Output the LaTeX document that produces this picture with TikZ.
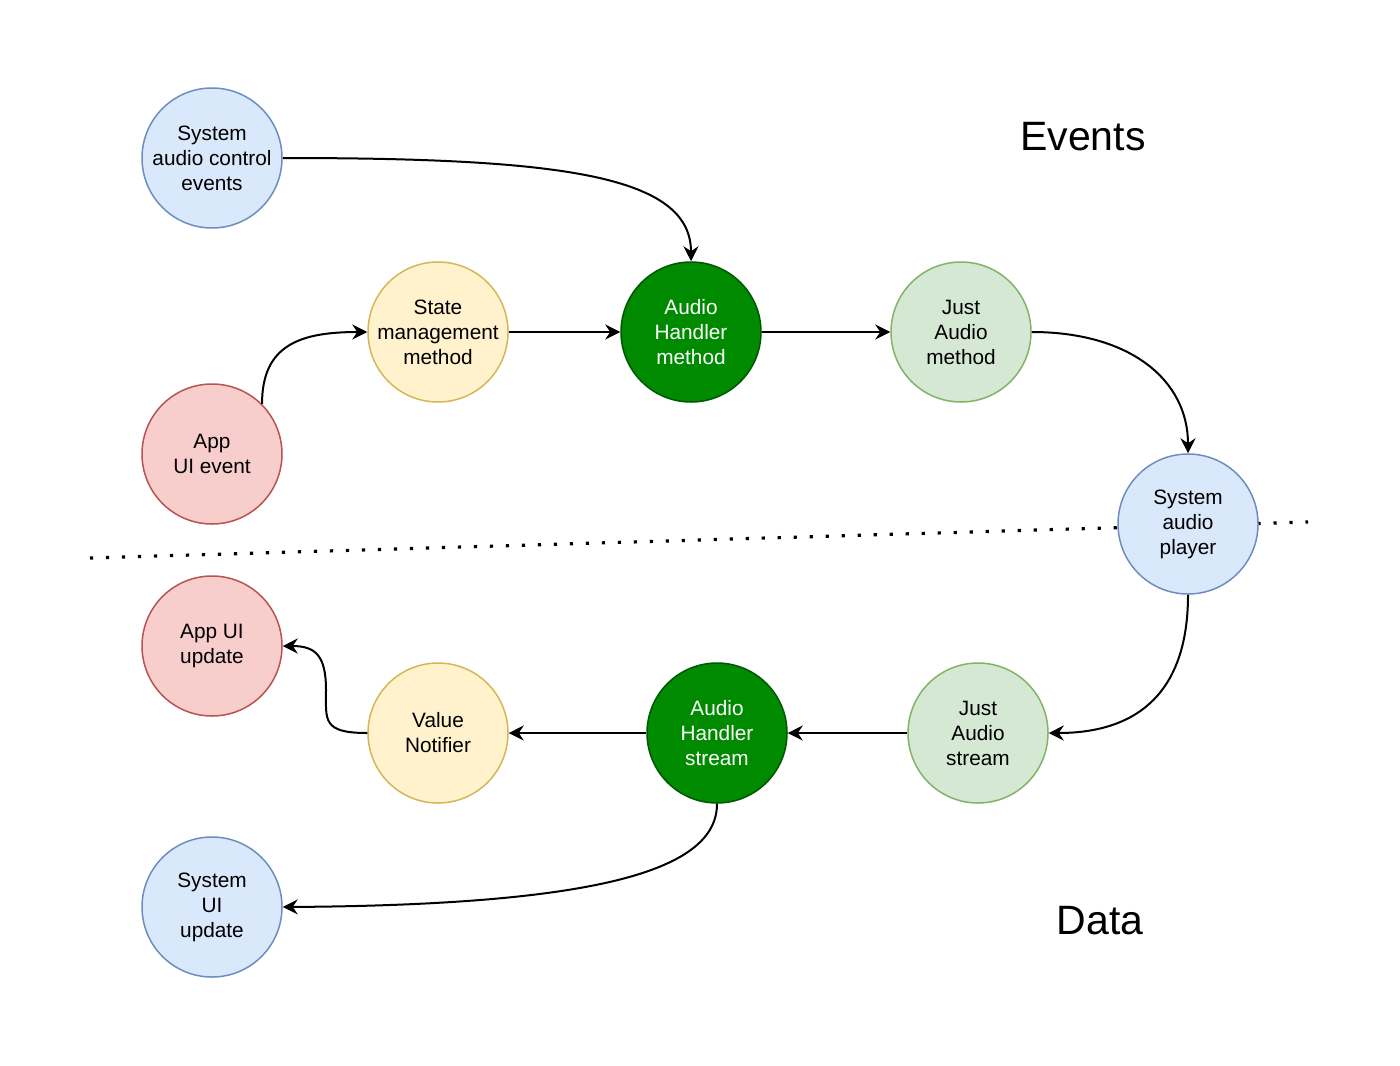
\documentclass[tikz,border=0pt]{standalone}
\usepackage{fontspec}
\setmainfont{Liberation Sans}
\usetikzlibrary{arrows.meta}
\definecolor{bluefill}{HTML}{DAE8FC}\definecolor{bluedraw}{HTML}{6C8EBF}
\definecolor{redfill}{HTML}{F8CECC}\definecolor{reddraw}{HTML}{B85450}
\definecolor{yelfill}{HTML}{FFF2CC}\definecolor{yeldraw}{HTML}{D6B656}
\definecolor{grnfill}{HTML}{D5E8D4}\definecolor{grndraw}{HTML}{82B366}
\definecolor{dkfill}{HTML}{008A00}\definecolor{dkdraw}{HTML}{005700}
\tikzset{
  bubble/.style={circle, minimum size=70pt, inner sep=0pt, line width=0.75pt,
    align=center, font=\fontsize{10.4}{12.5}\selectfont},
  bluebub/.style={bubble, fill=bluefill, draw=bluedraw},
  redbub/.style={bubble, fill=redfill, draw=reddraw},
  yelbub/.style={bubble, fill=yelfill, draw=yeldraw},
  grnbub/.style={bubble, fill=grnfill, draw=grndraw},
  dkbub/.style={bubble, fill=dkfill, draw=dkdraw, text=white},
  flow/.style={line width=1pt, -{Stealth[length=7.5pt,width=7.5pt,inset=2.5pt]}},
  title/.style={font=\fontsize{20.5}{24}\selectfont},
}
\begin{document}
\begin{tikzpicture}[x=0.5pt, y=-0.5pt]
\useasboundingbox (0,0) rectangle (1400,1065);
\fill[white] (0,0) rectangle (1400,1065);

% boundary between the event half and the data half
\coordinate (divL) at (90,558);
\coordinate (divR) at (1308,522);
\draw[line width=1.6pt, dash pattern=on 1.6pt off 6.4pt] (divL) -- (divR);

% event side
\node[bluebub] (sace) at (212,158) {System\\audio control\\events};
\node[redbub]  (aue)  at (212,454) {App\\UI event};
\node[yelbub]  (smm)  at (438,332) {State\\management\\method};
\node[dkbub]   (ahm)  at (691,332) {Audio\\Handler\\method};
\node[grnbub]  (jam)  at (961,332) {Just\\Audio\\method};
\node[bluebub] (sap)  at (1188,524) {System\\audio\\player};

% data side
\node[grnbub]  (jas)  at (978,733) {Just\\Audio\\stream};
\node[dkbub]   (ahs)  at (717,733) {Audio\\Handler\\stream};
\node[yelbub]  (vn)   at (438,733) {Value\\Notifier};
\node[redbub]  (auu)  at (212,646) {App UI\\update};
\node[bluebub] (suu)  at (212,907) {System\\UI\\update};

\node[title] (events) at (1083,137) {Events};
\node[title] (data)   at (1100,921) {Data};

% connectors
\draw[flow] (sace.east) .. controls (560,158) and (691,175) .. (ahm.north);
\draw[flow] (aue.45) .. controls (262,345) and (300,332) .. (smm.west);
\draw[flow] (smm.east) -- (ahm.west);
\draw[flow] (ahm.east) -- (jam.west);
\draw[flow] (jam.east) .. controls (1130,332) and (1188,380) .. (sap.north);
\draw[flow] (sap.south) .. controls (1188,690) and (1140,733) .. (jas.east);
\draw[flow] (jas.west) -- (ahs.east);
\draw[flow] (ahs.west) -- (vn.east);
\draw[flow] (vn.west) .. controls (322,733) and (326,720) .. (326,690)
            .. controls (326,655) and (315,646) .. (auu.east);
\draw[flow] (ahs.south) .. controls (717,870) and (600,905) .. (suu.east);
\end{tikzpicture}
\end{document}
